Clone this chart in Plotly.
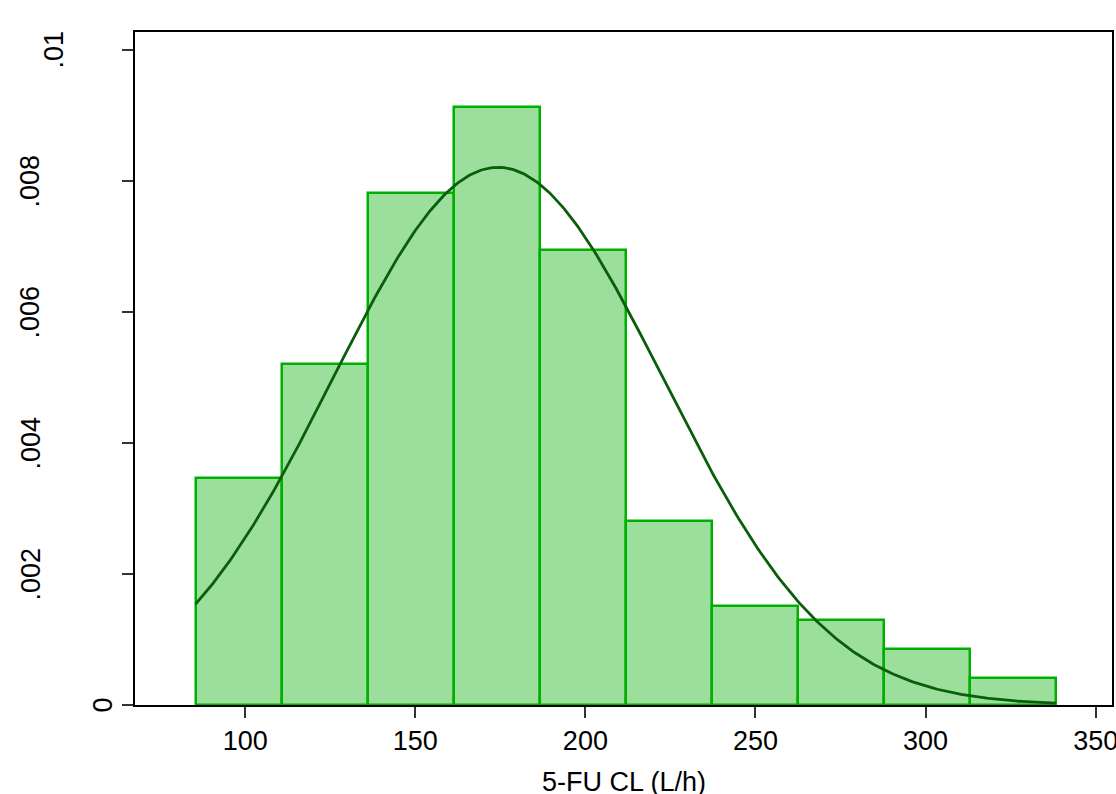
import numpy as np
import plotly.graph_objects as go

# ---- data ----
BIN_START = 85.4
BIN_WIDTH = 25.29
DENSITY = [0.003471, 0.005203, 0.007813, 0.009128, 0.006947,
           0.002807, 0.001508, 0.001300, 0.000856, 0.000417]
NORMAL_MEAN = 174.3
NORMAL_SD = 48.6

X_TICKS = [100, 150, 200, 250, 300, 350]
Y_TICKS = [0, 0.002, 0.004, 0.006, 0.008, 0.01]
Y_TICK_LABELS = ["0", ".002", ".004", ".006", ".008", ".01"]
X_TITLE = "5-FU CL (L/h)"

FONT = "Liberation Sans, Arial, sans-serif"

n = len(DENSITY)
centers = [BIN_START + BIN_WIDTH * (i + 0.5) for i in range(n)]
x_lo = BIN_START
x_hi = BIN_START + BIN_WIDTH * n
xc = np.linspace(x_lo, x_hi, 400)
yc = np.exp(-0.5 * ((xc - NORMAL_MEAN) / NORMAL_SD) ** 2) / (NORMAL_SD * np.sqrt(2 * np.pi))

fig = go.Figure()
fig.add_trace(go.Bar(
    x=centers, y=DENSITY, width=BIN_WIDTH,
    marker=dict(color="#9CDF9C", line=dict(color="#00B000", width=2.5)),
    hoverinfo="skip", showlegend=False,
))
fig.add_trace(go.Scatter(
    x=xc, y=yc, mode="lines",
    line=dict(color="#0A5E0A", width=2.8),
    hoverinfo="skip", showlegend=False,
))

annotations = []
for v, lab in zip(Y_TICKS, Y_TICK_LABELS):
    cx = 102.5 - 24 * (len(lab) - 1)
    annotations.append(dict(
        x=0, xref="paper", y=v, yref="y", text=lab, showarrow=False,
        textangle=-90, xanchor="center", yanchor="middle",
        xshift=cx - 135, font=dict(family=FONT, size=27, color="black"),
    ))
# x-axis title
annotations.append(dict(
    x=0.5, xref="paper", y=0, yref="paper", text=X_TITLE, showarrow=False,
    xanchor="center", yanchor="middle", yshift=-77,
    font=dict(family=FONT, size=27, color="black"),
))

fig.update_layout(
    width=1116, height=794,
    margin=dict(l=135, r=4, t=32, b=89, autoexpand=False),
    paper_bgcolor="white", plot_bgcolor="white",
    bargap=0,
    font=dict(family=FONT, size=27, color="black"),
    annotations=annotations,
    xaxis=dict(
        range=[67.6, 354.8], tickvals=X_TICKS, ticktext=[str(t) for t in X_TICKS],
        ticks="outside", ticklen=11, tickwidth=1.5, tickcolor="#333333",
        ticklabeloverflow="allow", automargin=False,
        showgrid=False, zeroline=False,
        showline=True, linecolor="black", linewidth=2, mirror=True,
        tickfont=dict(family=FONT, size=27, color="black"),
    ),
    yaxis=dict(
        range=[0, 0.010275], tickvals=Y_TICKS, showticklabels=False,
        ticks="outside", ticklen=11, tickwidth=1.5, tickcolor="#333333",
        showgrid=False, zeroline=False, automargin=False,
        showline=True, linecolor="black", linewidth=2, mirror=True,
    ),
)

fig.write_html("out.html")
